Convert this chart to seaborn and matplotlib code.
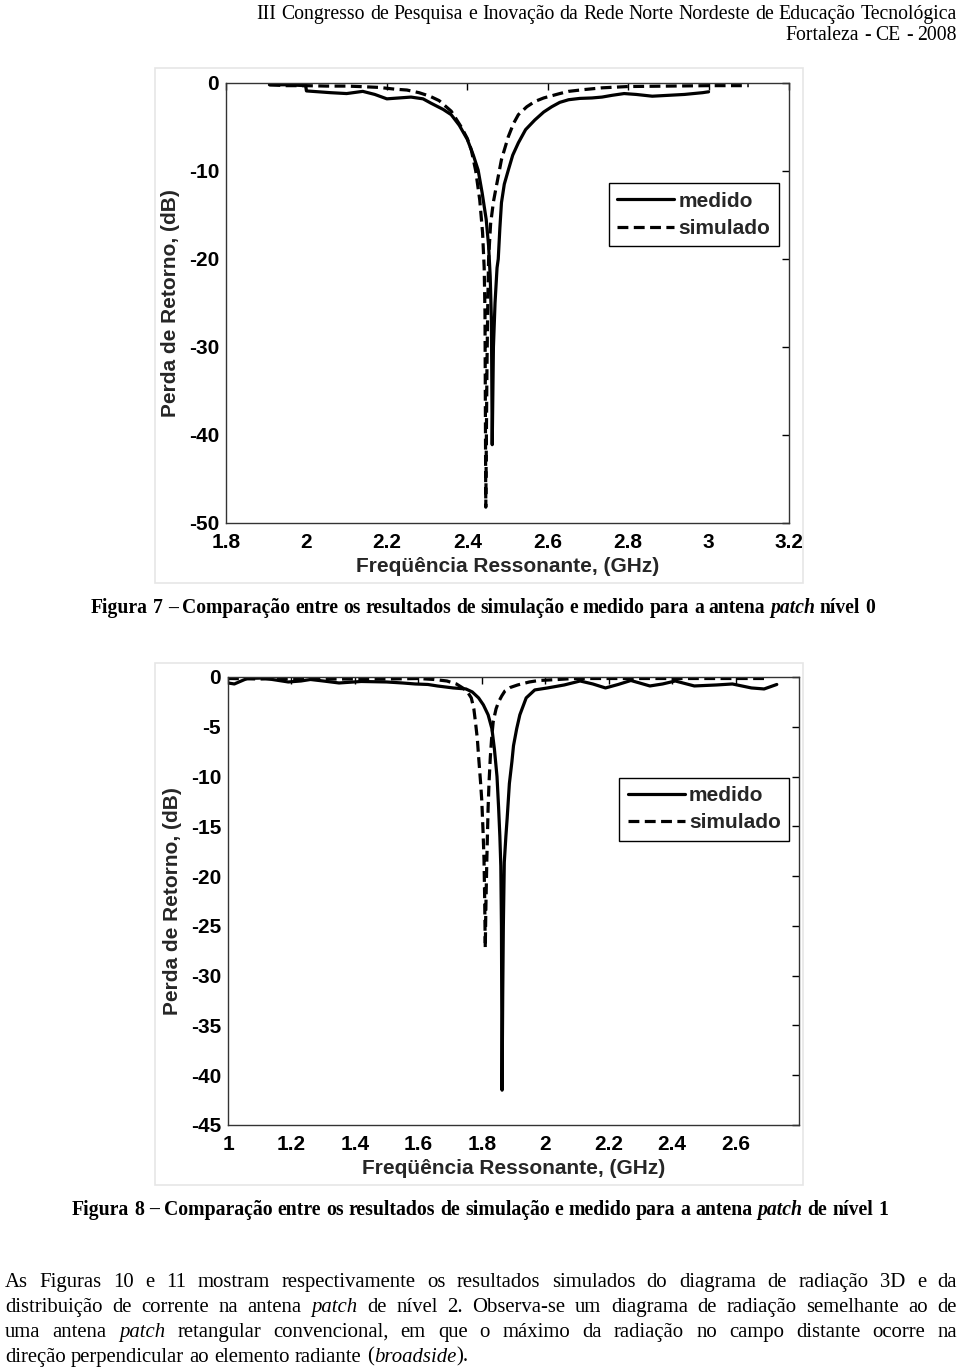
import matplotlib
matplotlib.use("Agg")
import matplotlib.pyplot as plt
from matplotlib.patches import Rectangle
import numpy as np
import pandas as pd
import seaborn as sns

# ---------------- data: Figure 7 (patch level 0) ----------------
freq1_medido = [1.908, 1.95, 1.998, 2.000, 2.03, 2.06, 2.10, 2.14, 2.17, 2.20, 2.23, 2.26,
                2.29, 2.31, 2.34, 2.36, 2.38, 2.40, 2.415, 2.427, 2.437, 2.447, 2.453, 2.457,
                2.460, 2.462, 2.465, 2.469, 2.474, 2.477, 2.481, 2.485, 2.492, 2.502, 2.513,
                2.527, 2.545, 2.568, 2.59, 2.61, 2.63, 2.652, 2.68, 2.71, 2.735, 2.76, 2.79,
                2.82, 2.86, 2.90, 2.94, 2.985, 3.0]
rl1_medido = [-0.2, -0.2, -0.3, -0.9, -1.0, -1.1, -1.2, -0.95, -1.3, -1.8, -1.7, -1.6,
              -1.8, -2.3, -3.0, -3.6, -4.8, -6.4, -8.2, -9.9, -12.5, -15.5, -18.5, -22,
              -27, -41.1, -30, -25, -21, -20, -16.5, -13.6, -11.5, -9.9, -8.2,
              -6.8, -5.3, -4.2, -3.3, -2.7, -2.2, -1.9, -1.75, -1.7, -1.6, -1.4, -1.2,
              -1.3, -1.5, -1.4, -1.3, -1.1, -1.0]
freq1_simulado = [1.908, 1.95, 2.00, 2.05, 2.10, 2.13, 2.18, 2.22, 2.25, 2.28, 2.307, 2.33,
                  2.36, 2.385, 2.40, 2.41, 2.421, 2.431, 2.438, 2.442, 2.444, 2.446, 2.449,
                  2.451, 2.453, 2.458, 2.465, 2.472, 2.485, 2.502, 2.515, 2.527, 2.548,
                  2.568, 2.59, 2.61, 2.63, 2.652, 2.69, 2.735, 2.8, 2.9, 3.0, 3.1]
rl1_simulado = [-0.2, -0.3, -0.3, -0.35, -0.35, -0.4, -0.5, -0.7, -0.8, -1.1, -1.5, -2.0,
                -3.2, -5.0, -6.3, -7.6, -10, -13.3, -17, -21, -26, -48.2, -32,
                -25, -20, -16, -13.5, -11.8, -8.7, -6.1, -4.6, -3.6, -2.7,
                -2.1, -1.7, -1.45, -1.2, -0.95, -0.75, -0.55, -0.4, -0.35, -0.3, -0.3]
xticks1 = [1.8, 2.0, 2.2, 2.4, 2.6, 2.8, 3.0, 3.2]
xtick_labels1 = ["1.8", "2", "2.2", "2.4", "2.6", "2.8", "3", "3.2"]
yticks1 = [0, -10, -20, -30, -40, -50]
ytick_labels1 = ["0", "-10", "-20", "-30", "-40", "-50"]

# ---------------- data: Figure 8 (patch level 1) ----------------
freq2_medido = [1.00, 1.02, 1.06, 1.11, 1.15, 1.19, 1.23, 1.26, 1.30, 1.35, 1.42, 1.50,
                1.55, 1.59, 1.63, 1.66, 1.71, 1.75, 1.77, 1.79, 1.805, 1.82, 1.832, 1.84,
                1.848, 1.853, 1.857, 1.860, 1.862, 1.864, 1.866, 1.868, 1.871, 1.876, 1.880,
                1.887, 1.895, 1.90, 1.91, 1.92, 1.94, 1.967, 2.007, 2.06, 2.11, 2.15, 2.19,
                2.23, 2.27, 2.33, 2.37, 2.41, 2.47, 2.54, 2.59, 2.65, 2.69, 2.73]
rl2_medido = [-0.6, -0.7, -0.15, -0.1, -0.3, -0.5, -0.4, -0.25, -0.4, -0.6, -0.45, -0.5,
              -0.6, -0.7, -0.75, -0.9, -1.1, -1.2, -1.5, -2.1, -2.8, -3.8, -5.2, -7.3,
              -10, -13.1, -16, -19, -25, -41.5, -32, -25, -18.6, -16, -14.2,
              -10.7, -8.5, -6.9, -5.2, -3.8, -2.1, -1.3, -1.1, -0.8, -0.4, -0.7, -1.1,
              -0.75, -0.35, -0.9, -0.7, -0.4, -0.9, -0.8, -0.7, -1.1, -1.2, -0.75]
freq2_simulado = [1.00, 1.10, 1.20, 1.30, 1.40, 1.50, 1.60, 1.65, 1.69, 1.72, 1.74, 1.755,
                  1.767, 1.775, 1.78, 1.786, 1.79, 1.796, 1.80, 1.804, 1.807, 1.809, 1.811,
                  1.813, 1.816, 1.82, 1.823, 1.827, 1.831, 1.836, 1.845, 1.853, 1.863, 1.873,
                  1.89, 1.913, 1.95, 1.98, 2.04, 2.09, 2.2, 2.3, 2.4, 2.5, 2.6, 2.69]
rl2_simulado = [-0.15, -0.2, -0.15, -0.2, -0.2, -0.2, -0.15, -0.25, -0.4, -0.7, -1.1, -1.5,
                -2.1, -3.2, -4.5, -6.2, -8, -10.5, -12.4, -15.5, -18.3, -22, -27.2,
                -23, -18.3, -13.1, -10.5, -8, -6.2, -4.5, -3.2, -2.5, -1.9, -1.4,
                -1.05, -0.8, -0.5, -0.35, -0.25, -0.15, -0.15, -0.15, -0.15, -0.15, -0.15, -0.15]
xticks2 = [1.0, 1.2, 1.4, 1.6, 1.8, 2.0, 2.2, 2.4, 2.6]
xtick_labels2 = ["1", "1.2", "1.4", "1.6", "1.8", "2", "2.2", "2.4", "2.6"]
yticks2 = [0, -5, -10, -15, -20, -25, -30, -35, -40, -45]
ytick_labels2 = ["0", "-5", "-10", "-15", "-20", "-25", "-30", "-35", "-40", "-45"]

series_labels = ["medido", "simulado"]
xlabel_text = "Freqüência Ressonante, (GHz)"
ylabel_text = "Perda de Retorno, (dB)"

header_lines = ["III Congresso de Pesquisa e Inovação da Rede Norte Nordeste de Educação Tecnológica",
                "Fortaleza - CE - 2008"]
caption7 = "Figura 7 – Comparação entre os resultados de simulação e medido para a antena _patch_ nível 0"
caption8 = "Figura 8 – Comparação entre os resultados de simulação e medido para a antena _patch_ de nível 1"
paragraph = [
    "As Figuras 10 e 11 mostram respectivamente os resultados simulados do diagrama de radiação 3D e da",
    "distribuição de corrente na antena _patch_ de nível 2. Observa-se um diagrama de radiação semelhante ao de",
    "uma antena _patch_ retangular convencional, em que o máximo da radiação no campo distante ocorre na",
    "direção perpendicular ao elemento radiante (_broadside_).",
]

# ---------------- figure ----------------
sns.set_theme(style="white")
plt.rcParams["font.family"] = ["Liberation Sans", "DejaVu Sans"]
SERIF = ["Liberation Serif", "DejaVu Serif"]

W, H = 960, 1368
fig = plt.figure(figsize=(W / 100, H / 100), dpi=100)
fig.patch.set_facecolor("white")
renderer = fig.canvas.get_renderer()


def fx(px):
    return px / W


def fy(py):
    return 1 - py / H


def axes_px(l, t, r, b):
    return fig.add_axes([fx(l), fy(b), (r - l) / W, (b - t) / H])


DASH = (0, (3.4, 1.7))
FS = 15


def panel(box, frame, fm, dm, fs_, ds, xlim, ylim, xt, xtl, yt, ytl, anchor):
    fig.add_artist(Rectangle((fx(frame[0]), fy(frame[3])), (frame[2] - frame[0]) / W,
                             (frame[3] - frame[1]) / H, transform=fig.transFigure,
                             facecolor="none", edgecolor="#e6e6e6", lw=1.2))
    ax = axes_px(*box)
    dfm = pd.DataFrame({"f": fm, "db": dm})
    dfs = pd.DataFrame({"f": fs_, "db": ds})
    sns.lineplot(data=dfm, x="f", y="db", ax=ax, color="black", lw=2.3, sort=False,
                 estimator=None, label=series_labels[0])
    sns.lineplot(data=dfs, x="f", y="db", ax=ax, color="black", lw=2.3, sort=False,
                 estimator=None, linestyle=DASH, label=series_labels[1])
    ax.set_xlim(*xlim)
    ax.set_ylim(*ylim)
    ax.set_xticks(xt, xtl, fontsize=FS, fontweight="bold")
    ax.set_yticks(yt, ytl, fontsize=FS, fontweight="bold")
    ax.tick_params(direction="in", length=5, width=1, top=True, right=True,
                   colors="black", pad=5)
    ax.tick_params(axis="x", pad=7)
    for s in ax.spines.values():
        s.set_color("#333333")
        s.set_linewidth(1.0)
    ax.set_xlabel(xlabel_text, fontsize=FS, fontweight="bold", labelpad=4)
    ax.set_ylabel(ylabel_text, fontsize=FS, fontweight="bold", labelpad=6)
    leg = ax.legend(loc="upper right", bbox_to_anchor=anchor, frameon=True, fancybox=False,
                    prop={"weight": "bold", "size": FS}, handlelength=2.75,
                    handletextpad=0.2, borderpad=0.4, labelspacing=0.4, borderaxespad=0)
    leg.get_frame().set_edgecolor("black")
    leg.get_frame().set_linewidth(1.0)
    leg.get_frame().set_alpha(1)
    return ax


panel((226, 83, 789, 523), (155, 68, 803, 583), freq1_medido, rl1_medido, freq1_simulado,
      rl1_simulado, (1.8, 3.2), (-50, 0), xticks1, xtick_labels1, yticks1, ytick_labels1,
      (0.982, 0.772))
panel((228, 677, 799, 1125), (155, 663, 803, 1185), freq2_medido, rl2_medido, freq2_simulado,
      rl2_simulado, (1.0, 2.8), (-45, 0), xticks2, xtick_labels2, yticks2, ytick_labels2,
      (0.983, 0.775))


# ---------------- serif text helpers ----------------
def raw_width(s, size, weight, italic):
    t = fig.text(0, 0, s, fontsize=size, family=SERIF, weight=weight,
                 style="italic" if italic else "normal")
    w = t.get_window_extent(renderer).width
    t.remove()
    return w


def measure(s, size, weight, italic):
    # advance width, independent of glyph ink bounds
    return (raw_width("I" + s + "I", size, weight, italic)
            - raw_width("II", size, weight, italic))


def parse(line):
    words = []
    for w in line.split(" "):
        parts = w.split("_")
        segs = [(p, i % 2 == 1) for i, p in enumerate(parts) if p]
        words.append(segs)
    return words


def layout(line, size, weight):
    words = parse(line)
    ww = [sum(measure(s, size, weight, it) for s, it in word) for word in words]
    sp = measure(" ", size, weight, False)
    return words, ww, sp


def natural_width(line, size, weight):
    words, ww, sp = layout(line, size, weight)
    return sum(ww) + sp * (len(ww) - 1)


def fit_size(line, target, weight):
    return 10 * target / natural_width(line, 10, weight)


def draw_line(line, yc, size, weight, x0=None, justify=None, center=None, right=None):
    words, ww, sp = layout(line, size, weight)
    nat = sum(ww) + sp * (len(ww) - 1)
    gap = sp
    if justify is not None:
        start = justify[0]
        gap = (justify[1] - justify[0] - sum(ww)) / (len(ww) - 1)
    elif center is not None:
        start = center - nat / 2
    elif right is not None:
        start = right - nat
    else:
        start = x0
    base = yc + 0.33 * size * 100 / 72
    x = start
    for word, w in zip(words, ww):
        xx = x
        for s, it in word:
            fig.text(fx(xx), fy(base), s, fontsize=size, family=SERIF, weight=weight,
                     style="italic" if it else "normal", va="baseline", ha="left",
                     color="black")
            xx += measure(s, size, weight, it)
        x += w + gap


# header
hs = fit_size(header_lines[0], 699, "normal")
draw_line(header_lines[0], 12, hs, "normal", right=957)
draw_line(header_lines[1], 33, hs, "normal", right=957)

# captions
cs7 = fit_size(caption7, 790, "bold")
draw_line(caption7, 607, cs7, "bold", center=483)
cs8 = fit_size(caption8, 816, "bold")
draw_line(caption8, 1208, cs8, "bold", center=480)

# paragraph
ps = fit_size(paragraph[-1], 465, "normal")
ys = [1280, 1305, 1330, 1355]
for i, (ln, yy) in enumerate(zip(paragraph, ys)):
    if i < len(paragraph) - 1:
        draw_line(ln, yy, ps, "normal", justify=(5, 957))
    else:
        draw_line(ln, yy, ps, "normal", x0=5)

fig.savefig("out.png", dpi=100, facecolor="white")
